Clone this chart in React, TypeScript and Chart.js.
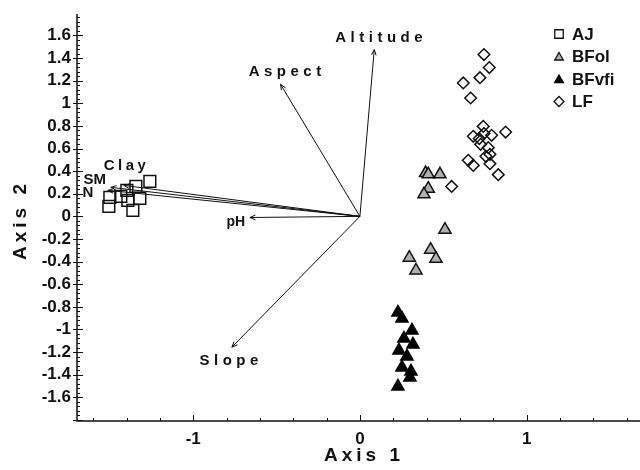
import { useEffect, useRef } from 'react';
import { Chart, registerables } from 'chart.js';
import { drawPoint } from 'chart.js/helpers';

Chart.register(...registerables);

// ---- data ----
const AJ_X = [-1.26, -1.344, -1.398, -1.434, -1.5, -1.32, -1.392, -1.506, -1.362];
const AJ_Y = [0.31, 0.265, 0.23, 0.177, 0.168, 0.159, 0.142, 0.088, 0.053];

const BFOL_X = [0.394, 0.41, 0.48, 0.41, 0.384, 0.51, 0.424, 0.456, 0.296, 0.336];
const BFOL_Y = [0.383, 0.372, 0.372, 0.245, 0.195, -0.118, -0.295, -0.374, -0.365, -0.478];

const BFVFI_X = [0.228, 0.252, 0.312, 0.264, 0.318, 0.234, 0.282, 0.252, 0.306, 0.3, 0.228];
const BFVFI_Y = [-0.85, -0.903, -1.009, -1.08, -1.133, -1.186, -1.239, -1.336, -1.372, -1.425, -1.504];

const LF_X = [0.744, 0.776, 0.72, 0.62, 0.664, 0.74, 0.68, 0.716, 0.744, 0.79, 0.874, 0.724, 0.77, 0.756, 0.78, 0.65, 0.68, 0.78, 0.83, 0.55];
const LF_Y = [1.431, 1.316, 1.227, 1.18, 1.047, 0.796, 0.708, 0.688, 0.732, 0.717, 0.746, 0.637, 0.608, 0.531, 0.549, 0.496, 0.451, 0.466, 0.369, 0.265];

// environmental vectors
const VECTOR_NAMES = ['Altitude', 'Aspect', 'Slope', 'pH', 'Clay', 'SM', 'N'];
const VECTOR_X = [0.086, -0.476, -0.768, -0.66, -1.416, -1.494, -1.512];
const VECTOR_Y = [1.475, 1.168, -1.157, -0.01, 0.274, 0.257, 0.23];
const LABEL_X = [0.114, -0.45, -0.786, -0.744, -1.41, -1.59, -1.632];
const LABEL_Y = [1.575, 1.274, -1.274, -0.053, 0.451, 0.319, 0.204];
const LABEL_SPACING = [4.5, 4.5, 4.5, 0, 3.5, 0, 0];
const LABEL_SIZE = [15, 15, 15, 14, 15, 15, 15];

const X_TICKS = [-1, 0, 1];
const Y_TICKS = [-1.6, -1.4, -1.2, -1, -0.8, -0.6, -0.4, -0.2, 0, 0.2, 0.4, 0.6, 0.8, 1, 1.2, 1.4, 1.6];
const X_MIN = -1.697;
const X_MAX = 1.68;
const Y_MIN = -1.81;
const Y_MAX = 1.79;
const X_MINOR_STEP = 0.2;
const Y_MINOR_STEP = 0.04;

const FONT = '"Liberation Sans", Arial, sans-serif';

const toPoints = (xs: number[], ys: number[]) => xs.map((x, i) => ({ x, y: ys[i] }));

const biplotPlugin = {
  id: 'biplot',
  afterDraw(chart: any) {
    const ctx = chart.ctx as CanvasRenderingContext2D;
    const xs = chart.scales.x;
    const ys = chart.scales.y;
    const area = chart.chartArea;
    ctx.save();

    // axis lines
    ctx.strokeStyle = '#111';
    ctx.lineWidth = 1.5;
    ctx.beginPath();
    ctx.moveTo(area.left, area.top);
    ctx.lineTo(area.left, area.bottom);
    ctx.lineTo(area.right, area.bottom);
    ctx.stroke();

    // ticks (minor + major, pointing inward)
    ctx.lineWidth = 1;
    ctx.beginPath();
    for (let k = Math.ceil(X_MIN / X_MINOR_STEP); k <= Math.floor(X_MAX / X_MINOR_STEP); k++) {
      const v = k * X_MINOR_STEP;
      const px = Math.round(xs.getPixelForValue(v)) + 0.5;
      const major = k % 5 === 0;
      ctx.moveTo(px, area.bottom);
      ctx.lineTo(px, area.bottom - (major ? 6 : 3));
    }
    for (let k = Math.ceil(Y_MIN / Y_MINOR_STEP); k <= Math.floor(Y_MAX / Y_MINOR_STEP); k++) {
      const v = k * Y_MINOR_STEP;
      const py = Math.round(ys.getPixelForValue(v)) + 0.5;
      const major = k % 5 === 0;
      ctx.moveTo(area.left - (major ? 4 : 0), py);
      ctx.lineTo(area.left + (major ? 6 : 3), py);
    }
    ctx.stroke();

    // vectors
    const ox = xs.getPixelForValue(0);
    const oy = ys.getPixelForValue(0);
    ctx.strokeStyle = '#111';
    ctx.lineWidth = 1;
    VECTOR_NAMES.forEach((name, i) => {
      const tx = xs.getPixelForValue(VECTOR_X[i]);
      const ty = ys.getPixelForValue(VECTOR_Y[i]);
      const ang = Math.atan2(ty - oy, tx - ox);
      ctx.beginPath();
      ctx.moveTo(ox, oy);
      ctx.lineTo(tx, ty);
      const hl = 6;
      const ha = 0.4;
      ctx.moveTo(tx - hl * Math.cos(ang - ha), ty - hl * Math.sin(ang - ha));
      ctx.lineTo(tx, ty);
      ctx.lineTo(tx - hl * Math.cos(ang + ha), ty - hl * Math.sin(ang + ha));
      ctx.stroke();

      const lx = xs.getPixelForValue(LABEL_X[i]);
      const ly = ys.getPixelForValue(LABEL_Y[i]);
      const sp = LABEL_SPACING[i];
      ctx.fillStyle = '#111';
      ctx.font = `bold ${LABEL_SIZE[i]}px ${FONT}`;
      (ctx as any).letterSpacing = `${sp}px`;
      ctx.textAlign = 'left';
      ctx.textBaseline = 'middle';
      const w = ctx.measureText(name).width;
      ctx.fillText(name, lx - (w - sp) / 2, ly);
    });

    // axis titles
    (ctx as any).letterSpacing = '4px';
    ctx.font = `bold 19px ${FONT}`;
    ctx.fillStyle = '#111';
    ctx.textBaseline = 'middle';
    let t = 'Axis 1';
    let w = ctx.measureText(t).width;
    ctx.fillText(t, 362 - (w - 4) / 2, 456);
    t = 'Axis 2';
    w = ctx.measureText(t).width;
    ctx.save();
    ctx.translate(21, 222);
    ctx.rotate(-Math.PI / 2);
    ctx.fillText(t, -(w - 4) / 2, 0);
    ctx.restore();

    // legend
    (ctx as any).letterSpacing = '0px';
    const legendR = [6, 5, 5, 5];
    chart.data.datasets.forEach((ds: any, i: number) => {
      const y = 34 + i * 22.5;
      ctx.fillStyle = ds.backgroundColor;
      ctx.strokeStyle = ds.borderColor;
      ctx.lineWidth = 1.3;
      drawPoint(ctx, { pointStyle: ds.pointStyle, radius: legendR[i], borderWidth: 1.3, rotation: 0 } as any, 559, y + (ds.pointStyle === 'triangle' ? 1 : 0));
      ctx.fillStyle = '#111';
      ctx.font = `bold 17px ${FONT}`;
      ctx.textAlign = 'left';
      ctx.textBaseline = 'middle';
      ctx.fillText(ds.label, 572, y + 1);
    });
    ctx.restore();
  },
};

export default function App() {
  const ref = useRef<HTMLCanvasElement>(null);
  useEffect(() => {
    if (!ref.current) return;
    const chart = new Chart(ref.current, {
      type: 'scatter',
      data: {
        datasets: [
          { label: 'AJ', data: toPoints(AJ_X, AJ_Y), pointStyle: 'rect', pointRadius: 8.3, backgroundColor: 'rgba(255,255,255,0)', borderColor: '#111', borderWidth: 1.5 },
          { label: 'BFol', data: toPoints(BFOL_X, BFOL_Y), pointStyle: 'triangle', pointRadius: 7, backgroundColor: '#b0b0b0', borderColor: '#111', borderWidth: 1.5 },
          { label: 'BFvfi', data: toPoints(BFVFI_X, BFVFI_Y), pointStyle: 'triangle', pointRadius: 7, backgroundColor: '#000', borderColor: '#000', borderWidth: 1.5 },
          { label: 'LF', data: toPoints(LF_X, LF_Y), pointStyle: 'rectRot', pointRadius: 5.8, backgroundColor: 'rgba(255,255,255,0)', borderColor: '#111', borderWidth: 1.5 },
        ],
      },
      options: {
        responsive: false,
        animation: false,
        events: [],
        layout: { autoPadding: false, padding: { top: 14, right: 0, left: 0, bottom: 0 } },
        plugins: { legend: { display: false }, tooltip: { enabled: false } },
        scales: {
          x: {
            type: 'linear',
            min: X_MIN,
            max: X_MAX,
            grid: { display: false, drawTicks: false },
            border: { display: false },
            afterBuildTicks: (s: any) => { s.ticks = X_TICKS.map((value) => ({ value })); },
            afterFit: (s: any) => { s.height = 49; s.paddingLeft = 0; s.paddingRight = 0; },
            ticks: {
              autoSkip: false,
              maxRotation: 0,
              padding: 8,
              color: '#111',
              font: { family: FONT, size: 17, weight: 'bold' },
              callback: (v: any) => String(Math.round(Number(v) * 10) / 10),
            },
          },
          y: {
            type: 'linear',
            min: Y_MIN,
            max: Y_MAX,
            grid: { display: false, drawTicks: false },
            border: { display: false },
            afterBuildTicks: (s: any) => { s.ticks = Y_TICKS.map((value) => ({ value })); },
            afterFit: (s: any) => { s.width = 77; s.paddingTop = 0; s.paddingBottom = 0; },
            ticks: {
              autoSkip: false,
              padding: 6,
              color: '#111',
              font: { family: FONT, size: 17, weight: 'bold' },
              callback: (v: any) => String(Math.round(Number(v) * 10) / 10),
            },
          },
        },
      },
      plugins: [biplotPlugin],
    } as any);
    return () => chart.destroy();
  }, []);
  return (
    <div style={{ position: 'fixed', left: 0, top: 0, width: 640, height: 470, background: '#fff' }}>
      <canvas ref={ref} width={640} height={470} />
    </div>
  );
}
